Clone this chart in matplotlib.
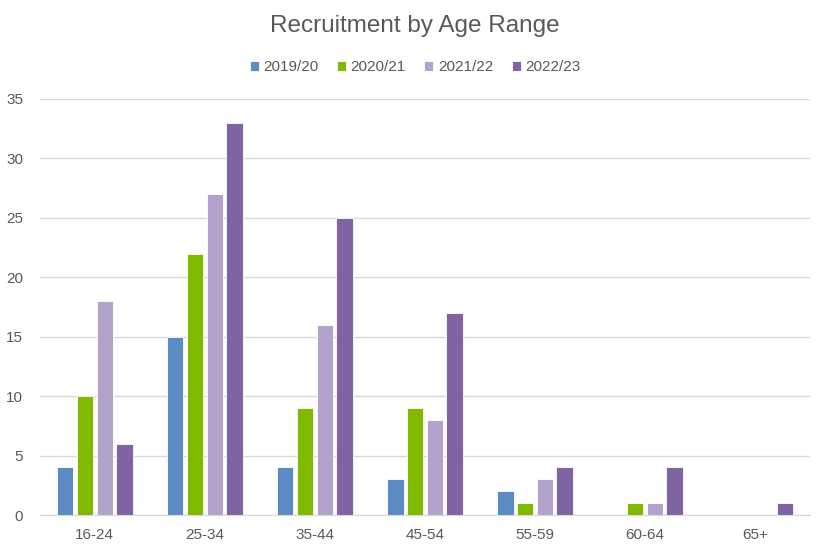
import matplotlib.pyplot as plt
import numpy as np

plt.rcParams['font.family'] = ['Liberation Sans', 'DejaVu Sans']

# Data
age_ranges = ['16-24', '25-34', '35-44', '45-54', '55-59', '60-64', '65+']
years = ['2019/20', '2020/21', '2021/22', '2022/23']
y2019 = [4, 15, 4, 3, 2, 0, 0]
y2020 = [10, 22, 9, 9, 1, 1, 0]
y2021 = [18, 27, 16, 8, 3, 1, 0]
y2022 = [6, 33, 25, 17, 4, 4, 1]
colors = ['#5B8BC2', '#7FBA00', '#B3A2CB', '#8064A2']

fig = plt.figure(figsize=(8.3, 5.5), dpi=100)
ax = fig.add_axes([0.048, 0.0636, 0.928, 0.7564])

x = np.arange(len(age_ranges))
series = [y2019, y2020, y2021, y2022]
step = 0.18
width = 0.15
for i, (vals, lab, col) in enumerate(zip(series, years, colors)):
    ax.bar(x + (i - 1.5) * step, vals, width, color=col, label=lab,
           edgecolor='white', linewidth=0.6, zorder=3)

ax.set_xlim(-0.5, len(age_ranges) - 0.5)
ax.set_ylim(0, 35)
ax.set_yticks(range(0, 36, 5))
ax.set_xticks(x)
ax.set_xticklabels(age_ranges)
ax.tick_params(axis='both', length=0, labelsize=11, labelcolor='#595959')
ax.tick_params(axis='y', pad=12)
ax.tick_params(axis='x', pad=9)
ax.grid(axis='y', color='#D9D9D9', linewidth=1, zorder=0)
for s in ['top', 'right', 'left']:
    ax.spines[s].set_visible(False)
ax.spines['bottom'].set_color('#D9D9D9')
ax.spines['bottom'].set_zorder(4)

fig.text(0.5, 0.952, 'Recruitment by Age Range', ha='center', va='center',
         fontsize=17.5, color='#595959')
fig.legend(loc='center', bbox_to_anchor=(0.5, 0.878), ncol=4, frameon=False,
           fontsize=11, labelcolor='#595959', handlelength=0.6, handleheight=0.6,
           handletextpad=0.3, columnspacing=1.2)

plt.savefig('out.png', dpi=100)
